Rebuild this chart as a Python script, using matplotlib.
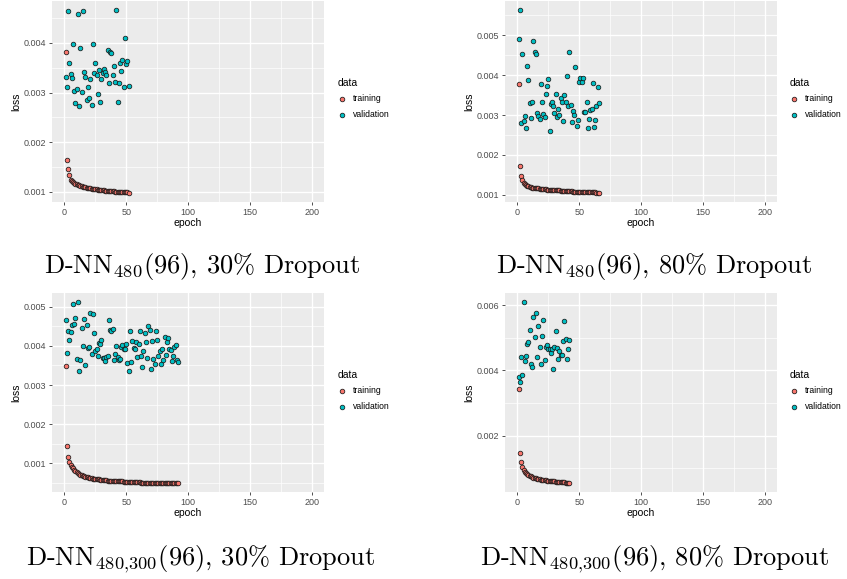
import numpy as np
import matplotlib
matplotlib.use("Agg")
import matplotlib.pyplot as plt
from matplotlib.ticker import FixedLocator, FormatStrFormatter

plt.rcParams['font.family'] = ['Liberation Sans', 'DejaVu Sans']
plt.rcParams['mathtext.fontset'] = 'cm'

# losses in units of 1e-3, epochs start at 1
train_a = [3.82, 1.65, 1.46, 1.33, 1.24, 1.21, 1.19, 1.17, 1.16, 1.15,
           1.14, 1.13, 1.12, 1.11, 1.10, 1.10, 1.09, 1.08, 1.08, 1.07,
           1.07, 1.06, 1.06, 1.05, 1.05, 1.05, 1.04, 1.04, 1.04, 1.03,
           1.03, 1.03, 1.02, 1.02, 1.02, 1.02, 1.01, 1.01, 1.01, 1.01,
           1.00, 1.00, 1.00, 1.00, 1.00, 0.99, 0.99, 0.99, 0.99, 0.99,
           0.99, 0.98]
valid_a = [3.31, 3.12, 4.64, 3.60, 3.38, 3.29, 3.98, 3.04, 2.79, 3.07,
           4.59, 2.73, 3.90, 3.02, 4.64, 3.41, 3.31, 2.85, 3.11, 2.90,
           3.28, 2.75, 3.98, 3.39, 3.59, 3.35, 2.98, 3.46, 2.81, 3.27,
           3.40, 3.48, 3.42, 3.36, 3.85, 3.20, 3.82, 3.79, 3.35, 3.53,
           3.22, 4.66, 2.82, 3.20, 3.60, 3.44, 3.66, 3.11, 4.09, 3.57,
           3.63, 3.13]

train_b = [3.77, 1.73, 1.47, 1.37, 1.30, 1.26, 1.24, 1.22, 1.21, 1.20,
           1.19, 1.18, 1.18, 1.17, 1.17, 1.16, 1.16, 1.15, 1.15, 1.15,
           1.14, 1.14, 1.14, 1.13, 1.13, 1.13, 1.12, 1.12, 1.12, 1.12,
           1.11, 1.11, 1.11, 1.11, 1.10, 1.10, 1.10, 1.10, 1.10, 1.09,
           1.09, 1.09, 1.09, 1.09, 1.08, 1.08, 1.08, 1.08, 1.08, 1.08,
           1.07, 1.07, 1.07, 1.07, 1.07, 1.07, 1.06, 1.06, 1.06, 1.06,
           1.06, 1.06, 1.06, 1.05, 1.05, 1.05]
valid_b = [4.91, 5.63, 2.81, 4.52, 2.86, 2.97, 2.67, 4.23, 3.88, 3.29,
           2.93, 3.33, 4.86, 4.58, 4.54, 3.05, 2.98, 2.91, 3.79, 3.32,
           3.03, 2.95, 3.52, 3.72, 3.91, 2.60, 3.28, 3.32, 3.22, 3.06,
           3.52, 2.96, 3.16, 3.00, 3.42, 3.34, 2.84, 3.50, 3.34, 3.99,
           3.22, 4.57, 3.24, 2.82, 3.11, 3.01, 4.21, 2.72, 2.87, 3.84,
           3.93, 3.84, 3.93, 3.07, 3.07, 3.32, 2.67, 2.91, 3.12, 3.16,
           3.81, 2.70, 2.87, 3.22, 3.71, 3.31]

train_c = [3.48, 1.45, 1.17, 1.03, 0.96, 0.91, 0.87, 0.83, 0.80, 0.77,
           0.75, 0.73, 0.71, 0.70, 0.68, 0.67, 0.66, 0.65, 0.64, 0.63,
           0.63, 0.62, 0.61, 0.61, 0.60, 0.60, 0.59, 0.59, 0.58, 0.58,
           0.58, 0.57, 0.57, 0.57, 0.56, 0.56, 0.56, 0.56, 0.55, 0.55,
           0.55, 0.55, 0.54, 0.54, 0.54, 0.54, 0.54, 0.53, 0.53, 0.53,
           0.53, 0.53, 0.53, 0.52, 0.52, 0.52, 0.52, 0.52, 0.52, 0.52,
           0.52, 0.51, 0.51, 0.51, 0.51, 0.51, 0.51, 0.51, 0.51, 0.51,
           0.51, 0.51, 0.51, 0.50, 0.50, 0.50, 0.50, 0.50, 0.50, 0.50,
           0.50, 0.50, 0.50, 0.50, 0.50, 0.50, 0.50, 0.50, 0.50, 0.50,
           0.50, 0.50]
valid_c = [4.66, 3.82, 4.38, 4.16, 4.35, 4.53, 5.07, 4.55, 4.71, 3.67,
           5.12, 3.37, 3.63, 4.45, 4.01, 4.68, 3.51, 4.53, 3.95, 3.97,
           4.84, 3.80, 4.82, 4.33, 3.88, 3.93, 3.75, 4.07, 4.06, 4.15,
           3.69, 3.68, 3.62, 3.72, 3.74, 4.65, 4.40, 4.37, 4.42, 3.64,
           3.79, 3.99, 3.71, 3.64, 3.67, 3.97, 4.03, 3.91, 3.91, 4.05,
           3.56, 3.37, 4.37, 3.58, 4.12, 3.94, 3.91, 4.09, 3.72, 4.05,
           4.39, 3.75, 3.46, 3.87, 4.34, 4.11, 3.69, 4.51, 4.41, 3.42,
           4.13, 3.67, 3.53, 4.38, 4.15, 3.73, 3.87, 3.53, 3.92, 3.63,
           4.24, 3.76, 4.11, 4.21, 3.92, 3.89, 3.62, 3.74, 3.98, 4.03,
           3.64, 3.59]

train_d = [3.44, 1.48, 1.19, 1.03, 0.95, 0.90, 0.86, 0.82, 0.79, 0.77,
           0.75, 0.73, 0.71, 0.70, 0.69, 0.68, 0.67, 0.66, 0.65, 0.65,
           0.64, 0.63, 0.63, 0.62, 0.62, 0.61, 0.61, 0.60, 0.60, 0.60,
           0.59, 0.59, 0.58, 0.58, 0.58, 0.57, 0.57, 0.57, 0.56, 0.56,
           0.56, 0.55]
valid_d = [3.81, 3.64, 4.42, 3.85, 6.10, 4.29, 4.44, 4.81, 4.88, 5.24,
           4.19, 4.11, 5.63, 5.04, 5.75, 4.40, 5.35, 4.73, 4.19, 5.06,
           5.55, 4.32, 4.73, 4.78, 4.65, 4.66, 4.54, 4.67, 4.05, 4.71,
           5.22, 4.69, 4.34, 4.61, 4.48, 4.48, 4.90, 5.51, 4.97, 4.36,
           4.67, 4.95]

captions = [r"D-NN$_{480}$(96), 30% Dropout",
            r"D-NN$_{480}$(96), 80% Dropout",
            r"D-NN$_{480{,}300}$(96), 30% Dropout",
            r"D-NN$_{480{,}300}$(96), 80% Dropout"]
yticks = [[1, 2, 3, 4], [1, 2, 3, 4, 5], [1, 2, 3, 4, 5], [2, 4, 6]]
yminor = [[1.5, 2.5, 3.5, 4.5], [1.5, 2.5, 3.5, 4.5, 5.5],
          [0.5, 1.5, 2.5, 3.5, 4.5], [1, 3, 5]]
series = [(train_a, valid_a), (train_b, valid_b),
          (train_c, valid_c), (train_d, valid_d)]

W, H = 847, 579
fig = plt.figure(figsize=(W / 100, H / 100), dpi=100)

# panel boxes in pixels: left, top, right, bottom
boxes = [(52, 1, 324, 202), (505, 1, 777, 202),
         (52, 293, 324, 492), (505, 293, 777, 492)]
legend_pos = [(338, 78), (790, 78), (338, 370), (790, 370)]
caption_pos = [(202, 267), (654, 267), (201, 559), (655, 559)]

for i, (tr, va) in enumerate(series):
    l, t, r, b = boxes[i]
    ax = fig.add_axes([l / W, 1 - b / H, (r - l) / W, (b - t) / H])
    ax.set_facecolor('#EBEBEB')
    for s in ax.spines.values():
        s.set_visible(False)
    ep_t = np.arange(1, len(tr) + 1)
    ep_v = np.arange(1, len(va) + 1)
    h1 = ax.scatter(ep_t, np.array(tr) / 1000, s=11, c='#F8766D',
                    edgecolors='#1a1a1a', linewidths=0.55, label='training', zorder=3)
    h2 = ax.scatter(ep_v, np.array(va) / 1000, s=11, c='#00BFC4',
                    edgecolors='#1a1a1a', linewidths=0.55, label='validation', zorder=3)
    ax.set_xlim(-10, 210)
    ax.set_ymargin(0.05)
    ax.autoscale_view()
    ax.xaxis.set_major_locator(FixedLocator([0, 50, 100, 150, 200]))
    ax.xaxis.set_minor_locator(FixedLocator([25, 75, 125, 175]))
    ax.yaxis.set_major_locator(FixedLocator(np.array(yticks[i]) / 1000))
    ax.yaxis.set_minor_locator(FixedLocator(np.array(yminor[i]) / 1000))
    ax.yaxis.set_major_formatter(FormatStrFormatter('%.3f'))
    ax.grid(which='major', color='white', lw=1.0)
    ax.grid(which='minor', color='white', lw=0.5)
    ax.set_axisbelow(True)
    ax.tick_params(which='major', length=2.5, width=0.6, color='#333333',
                   labelsize=6.5, labelcolor='#4D4D4D', pad=1.5)
    ax.tick_params(which='minor', length=0)
    ax.set_xlabel('epoch', fontsize=7.5, labelpad=1)
    ax.set_ylabel('loss', fontsize=7.5, labelpad=2)

    lx, ly = legend_pos[i]
    ax.legend(handles=[h1, h2], title='data', loc='upper left',
              bbox_to_anchor=(lx / W, 1 - ly / H), bbox_transform=fig.transFigure,
              frameon=False, fontsize=6.2, title_fontsize=7.5,
              alignment='left', handlelength=1.0, handletextpad=0.7,
              labelspacing=0.75, borderaxespad=0, borderpad=0)

    cx, cy = caption_pos[i]
    fig.text(cx / W, 1 - cy / H, captions[i], ha='center', va='center',
             fontsize=19, family='cmr10')

fig.savefig('out.png', dpi=100)
